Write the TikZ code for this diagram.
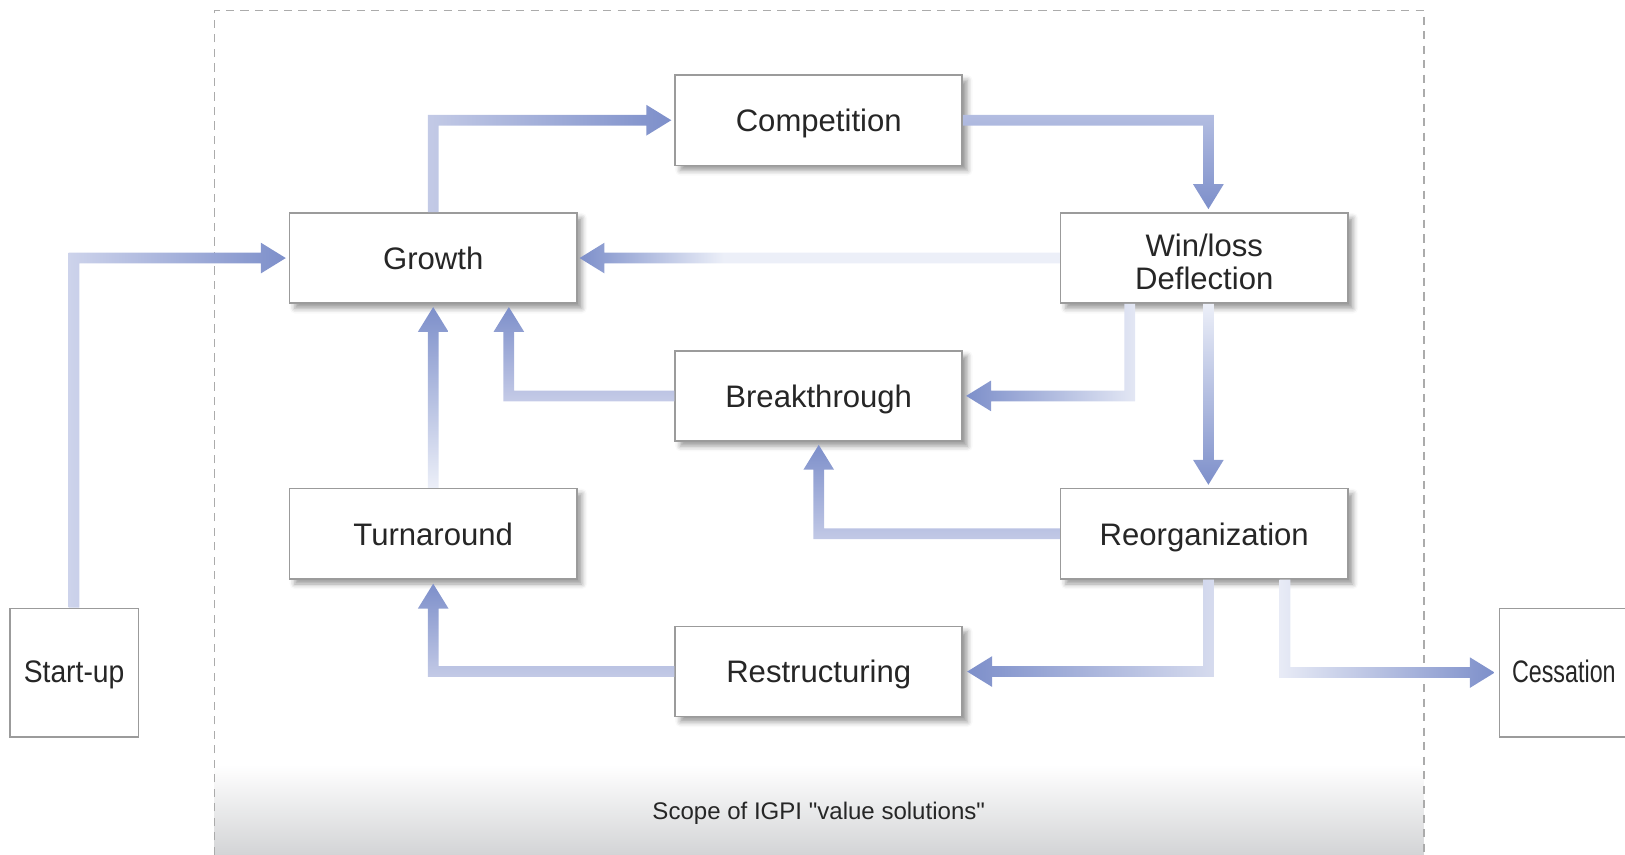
\documentclass[tikz,border=0pt]{standalone}
\usepackage{fontspec}
\setmainfont{Liberation Sans}[Ligatures=TeXOff]
\usetikzlibrary{calc,shadows.blur}
\definecolor{arrdark}{HTML}{7D8FCA}
\definecolor{arrlight}{HTML}{ECEFF8}
\definecolor{aone}{HTML}{C3CAE6}
\definecolor{atwo}{HTML}{B3BDE1}
\definecolor{afour}{HTML}{E3E7F4}
\definecolor{asix}{HTML}{C5CBE7}
\definecolor{aeight}{HTML}{C2C9E6}
\definecolor{anine}{HTML}{D6DBEE}
\definecolor{aten}{HTML}{E8EBF6}
\definecolor{atwelve}{HTML}{CDD3EB}
\definecolor{boxgray}{HTML}{9B9B9B}
\definecolor{txt}{HTML}{262626}
\definecolor{framegray}{HTML}{ABABAB}
\definecolor{floorgray}{HTML}{D3D4D6}
\pgfdeclarehorizontalshading{wlshade}{100bp}{color(0bp)=(arrdark); color(25bp)=(arrdark); color(40bp)=(arrlight); color(100bp)=(arrlight)}
\newcommand\arrHalf{2.6pt}
\newcommand\arrHeadHalf{7.4pt}
\newcommand\arrHeadLen{12pt}
\newcommand\dropline[1]{\raisebox{-7.2pt}[0pt][0pt]{#1}}
% elbow connector: #1 start, #2 corner, #3 tip, #4 shading
\newcommand\flowelbow[4]{%
  \path ($(#3)!\arrHeadLen!(#2)$) coordinate (aB);
  \shade[#4] ($(#1)!\arrHalf!90:(#2)$)
    -- ($(#2)!\arrHalf!-90:(#1) + (#2)!\arrHalf!90:(#3) - (#2)$)
    -- ($(aB)!\arrHalf!90:(#3)$) -- ($(aB)!\arrHeadHalf!90:(#3)$) -- (#3)
    -- ($(aB)!\arrHeadHalf!-90:(#3)$) -- ($(aB)!\arrHalf!-90:(#3)$)
    -- ($(#2)!\arrHalf!90:(#1) + (#2)!\arrHalf!-90:(#3) - (#2)$)
    -- ($(#1)!\arrHalf!-90:(#2)$) -- cycle;}
% straight connector: #1 start, #2 tip, #3 shading
\newcommand\flowstraight[3]{%
  \path ($(#2)!\arrHeadLen!(#1)$) coordinate (aB);
  \shade[#3] ($(#1)!\arrHalf!90:(#2)$) -- ($(aB)!\arrHalf!90:(#2)$)
    -- ($(aB)!\arrHeadHalf!90:(#2)$) -- (#2) -- ($(aB)!\arrHeadHalf!-90:(#2)$)
    -- ($(aB)!\arrHalf!-90:(#2)$) -- ($(#1)!\arrHalf!-90:(#2)$) -- cycle;}
\begin{document}
\begin{tikzpicture}[x=0.5pt,y=-0.5pt,
  stagebox/.style={draw=boxgray, line width=0.75pt, fill=white,
    minimum width=138.5pt, minimum height=43.5pt, inner sep=0pt,
    text=txt, font=\fontsize{15}{15.6}\selectfont, align=center,
    blur shadow={shadow xshift=2.5pt, shadow yshift=-2.5pt, shadow blur radius=2.5pt, shadow opacity=40}},
  onelinetext/.style={text height=11pt, text depth=0pt},
  endbox/.style={draw=boxgray, line width=0.75pt, fill=white,
    minimum width=62pt, minimum height=62pt, inner sep=0pt,
    text=txt, font=\fontsize{15}{15.6}\selectfont, text height=9.5pt, text depth=0pt},
  framestyle/.style={draw=framegray, line width=0.7pt, dash pattern=on 4pt off 3pt}]
\useasboundingbox (0,0) rectangle (1568,825);
% floor gradient and frame
\shade[top color=white, bottom color=floorgray] (207,738) rectangle (1374,825);
\draw[framestyle] (207,825) -- (207,10) -- (1374,10) -- (1374,825);
% nodes
\node[stagebox,onelinetext] (comp)  at (790,116)  {Competition};
\node[stagebox,onelinetext] (growth) at (418,249) {Growth};
\node[stagebox] (win) at (1162,249) {\dropline{Win/loss}\\\dropline{Deflection}};
\node[stagebox,onelinetext] (brk) at (790,382) {Breakthrough};
\node[stagebox,onelinetext] (turn) at (418,515) {Turnaround};
\node[stagebox,onelinetext] (reorg) at (1162,515) {Reorganization};
\node[stagebox,onelinetext] (restr) at (790,648) {Restructuring};
\node[endbox] (start) at (71.5,649) {\scalebox{0.91}[1]{Start-up}};
\node[endbox] (cess) at (1509,649) {\scalebox{0.75}[1]{Cessation}};
\node[text=txt, font=\fontsize{11.6}{13}\selectfont] (scope) at (790,785) {Scope of IGPI "value solutions"};
% helper coordinates
\coordinate (k1) at (growth.north |- comp.west);
\coordinate (t1) at ($(comp.west)+(-3,0)$);
\coordinate (w1) at ($(win.north)+(4,0)$);
\coordinate (k2) at (w1 |- comp.east);
\coordinate (t2) at ($(w1)+(0,-3)$);
\coordinate (t3) at ($(growth.east)+(2,0)$);
\coordinate (s4) at ($(win.south)+(-72,0)$);
\coordinate (k4) at (s4 |- brk.east);
\coordinate (t4) at ($(brk.east)+(3,0)$);
\coordinate (s5) at ($(win.south)+(4,0)$);
\coordinate (t5) at ($(reorg.north)+(4,-3)$);
\coordinate (g6) at ($(growth.south)+(73,0)$);
\coordinate (k6) at (g6 |- brk.west);
\coordinate (t6) at ($(g6)+(0,3)$);
\coordinate (t7) at ($(growth.south)+(0,3)$);
\coordinate (k8) at (brk.south |- reorg.west);
\coordinate (t8) at ($(brk.south)+(0,3)$);
\coordinate (s9) at ($(reorg.south)+(4,0)$);
\coordinate (k9) at (s9 |- restr.east);
\coordinate (t9) at ($(restr.east)+(4,0)$);
\coordinate (s10) at ($(reorg.south)+(78,0)$);
\coordinate (k10) at (s10 |- cess.west);
\coordinate (t10) at ($(cess.west)+(-4,0)$);
\coordinate (k11) at (turn.south |- restr.west);
\coordinate (t11) at ($(turn.south)+(0,4)$);
\coordinate (k12) at (start.north |- growth.west);
\coordinate (t12) at ($(growth.west)+(-3,0)$);
% connectors
\flowelbow{growth.north}{k1}{t1}{left color=aone, right color=arrdark}
\flowelbow{comp.east}{k2}{t2}{top color=atwo, bottom color=arrdark}
\flowstraight{win.west}{t3}{shading=wlshade}
\flowelbow{s4}{k4}{t4}{left color=arrdark, right color=afour}
\flowstraight{s5}{t5}{top color=arrlight, bottom color=arrdark}
\flowelbow{brk.west}{k6}{t6}{top color=arrdark, bottom color=asix}
\flowstraight{turn.north}{t7}{top color=arrdark, bottom color=arrlight}
\flowelbow{reorg.west}{k8}{t8}{top color=arrdark, bottom color=aeight}
\flowelbow{s9}{k9}{t9}{left color=arrdark, right color=anine}
\flowelbow{s10}{k10}{t10}{left color=aten, right color=arrdark}
\flowelbow{restr.west}{k11}{t11}{top color=arrdark, bottom color=aone}
\flowelbow{start.north}{k12}{t12}{left color=atwelve, right color=arrdark}
\end{tikzpicture}
\end{document}
